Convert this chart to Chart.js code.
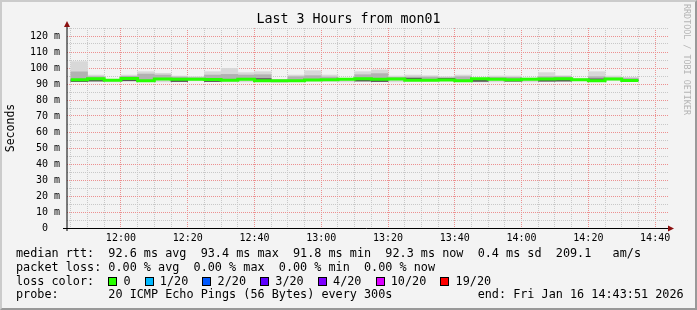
<!DOCTYPE html>
<html>
<head>
<meta charset="utf-8">
<script src="https://cdn.jsdelivr.net/npm/chart.js@4.4.1/dist/chart.umd.min.js"></script>
<style>
  html, body { margin: 0; padding: 0; }
  body {
    width: 697px; height: 310px; position: relative; overflow: hidden;
    background: #f3f3f3; color: #000;
    font-family: "DejaVu Sans Mono", monospace;
  }
  #chart { position: absolute; left: 0; top: 0; }
  .frame {
    position: absolute; left: 0; top: 0; width: 697px; height: 310px;
    box-sizing: border-box; border-style: solid; border-width: 2px;
    border-color: #cbcbcb #999 #999 #cbcbcb; pointer-events: none;
  }
  .title {
    position: absolute; left: 0; top: 11px; width: 697px;
    text-align: center; font-size: 13.3px; line-height: 16px;
  }
  .legend {
    position: absolute; left: 16px; top: 247px;
    font-size: 11.8px; line-height: 13.8px; white-space: pre;
  }
  .box {
    display: inline-block; width: 9px; height: 9px; box-sizing: border-box;
    border: 1px solid #000; vertical-align: -1px; margin-right: -1px;
  }
  .credit {
    position: absolute; left: 682px; top: 4px; line-height: 10px;
    font-size: 8.4px; color: #b4b4b4; writing-mode: vertical-rl; white-space: pre;
  }
</style>
</head>
<body>
<canvas id="chart" width="697" height="310"></canvas>
<div class="title">Last 3 Hours from mon01</div>
<div class="credit">RRDTOOL / TOBI OETIKER</div>
<div class="legend" id="legend"></div>
<div class="frame"></div>
<script>
// 5 minute steps (start of each step)
const stepTimes = [
  '11:45', '11:50', '11:55', '12:00', '12:05', '12:10', '12:15', '12:20', '12:25',
  '12:30', '12:35', '12:40', '12:45', '12:50', '12:55', '13:00', '13:05', '13:10',
  '13:15', '13:20', '13:25', '13:30', '13:35', '13:40', '13:45', '13:50', '13:55',
  '14:00', '14:05', '14:10', '14:15', '14:20', '14:25', '14:30'
];
const stepEnd = '14:35';
const graphEnd = '14:43:51';
const graphSpan = 180; // minutes
const stepLength = 5;

// ms
const rttMedian = [
  92.7, 93.3, 92.3, 93.5, 92.1, 93.2, 92.9, 92.9, 92.8,
  92.3, 92.9, 92.1, 92.0, 92.0, 92.5, 92.7, 92.9, 93.3,
  92.9, 93.1, 92.4, 92.4, 92.5, 92.1, 93.3, 92.9, 92.7,
  92.9, 93.1, 93.3, 92.7, 92.1, 93.1, 92.2
];
const rttMin = [
  91.8, 91.6, 91.3, 91.9, 91.6, 91.3, 91.4, 92.0, 91.7,
  91.3, 91.3, 91.5, 91.0, 91.6, 91.8, 91.6, 91.3, 91.8,
  91.4, 91.3, 91.8, 91.7, 91.9, 91.5, 91.2, 91.3, 91.6,
  91.3, 91.7, 91.5, 92.0, 91.7, 92.3, 91.7
];
const rttMax = [
  104.0, 95.6, 92.9, 95.6, 97.7, 96.7, 95.0, 94.6, 97.7,
  99.8, 97.1, 97.7, 92.9, 95.6, 98.3, 95.6, 93.5, 97.7,
  98.8, 95.0, 95.6, 95.2, 94.6, 95.6, 93.8, 95.0, 95.0,
  93.8, 97.1, 95.2, 93.3, 97.7, 95.0, 94.2
];
const rttHigh = [
  97.6, 94.6, 92.9, 94.8, 96.2, 95.6, 94.4, 94.0, 95.6,
  96.0, 95.6, 95.8, 92.6, 94.6, 95.2, 94.4, 93.3, 95.8,
  96.5, 94.2, 94.4, 94.4, 94.0, 94.6, 93.5, 94.2, 94.2,
  93.4, 94.6, 94.6, 93.1, 94.6, 93.8, 93.6
];
// pings closest to the median (dark smoke)
const rttNearLo = [
  91.5, 91.8, 92.3, 92.0, 92.1, 93.2, 91.5, 92.9, 91.5,
  92.3, 92.9, 92.1, 92.0, 92.0, 92.5, 92.7, 92.9, 91.8,
  91.5, 93.1, 92.4, 92.4, 92.5, 92.1, 91.6, 92.9, 91.7,
  92.9, 91.7, 91.8, 92.7, 92.1, 93.1, 92.2
];
const rttNearHi = [
  92.7, 93.3, 92.3, 93.5, 92.1, 93.2, 92.9, 92.9, 92.8,
  92.3, 92.9, 93.4, 92.0, 92.0, 92.5, 92.7, 92.9, 93.3,
  92.9, 93.1, 93.6, 92.4, 93.5, 92.1, 93.3, 92.9, 92.7,
  92.9, 93.1, 93.3, 92.7, 93.2, 93.1, 92.2
];

const yLabelValues = [0, 10, 20, 30, 40, 50, 60, 70, 80, 90, 100, 110, 120];
const yLabelText = ['0  ', '10 m', '20 m', '30 m', '40 m', '50 m', '60 m', '70 m',
  '80 m', '90 m', '100 m', '110 m', '120 m'];
const xLabels = ['12:00', '12:20', '12:40', '13:00', '13:20', '13:40', '14:00', '14:20', '14:40'];

const medianStats = ['92.6 ms avg', '93.4 ms max', '91.8 ms min', '92.3 ms now', '0.4 ms sd', '209.1   am/s'];
const lossStats = ['0.00 % avg', '0.00 % max', '0.00 % min', '0.00 % now'];
const lossLabels = ['0', '1/20', '2/20', '3/20', '4/20', '10/20', '19/20'];
const lossColors = ['#26ff00', '#00b8ff', '#0059ff', '#5e00ff', '#7e00ff', '#dd00ff', '#ff0000'];
const probeText = '20 ICMP Echo Pings (56 Bytes) every 300s';
const endText = 'end: Fri Jan 16 14:43:51 2026';

function toMin(t) {
  const p = t.split(':').map(Number);
  return p[0] * 60 + p[1] + (p[2] || 0) / 60;
}
function fmt(m) {
  const r = Math.round(m);
  return Math.floor(r / 60) + ':' + String(r % 60).padStart(2, '0');
}

const xMax = toMin(graphEnd);
const xMin = xMax - graphSpan;

function band(lo, hi) {
  return stepTimes.map((t, i) => ({x: toMin(t) + stepLength / 2, y: [lo[i], hi[i]]}));
}

const medianLine = stepTimes.map((t, i) => ({x: toMin(t), y: rttMedian[i]}));
medianLine.push({x: toMin(stepEnd), y: rttMedian[rttMedian.length - 1]});

const barOpts = {
  type: 'bar', grouped: false, barPercentage: 1, categoryPercentage: 1, borderWidth: 0
};

const axisArrows = {
  id: 'axisArrows',
  afterDatasetsDraw(chart) {
    const {ctx, chartArea: a} = chart;
    ctx.save();
    ctx.lineWidth = 1;
    ctx.strokeStyle = '#000';
    ctx.beginPath();
    ctx.moveTo(a.left - 4, a.bottom + 0.5);
    ctx.lineTo(a.right + 2, a.bottom + 0.5);
    ctx.stroke();
    ctx.beginPath();
    ctx.moveTo(a.left, a.bottom + 3);
    ctx.lineTo(a.left, a.top - 4);
    ctx.stroke();
    ctx.fillStyle = '#8b1010';
    ctx.beginPath();
    ctx.moveTo(a.left - 3, a.top - 1);
    ctx.lineTo(a.left + 3, a.top - 1);
    ctx.lineTo(a.left, a.top - 7);
    ctx.closePath();
    ctx.fill();
    ctx.beginPath();
    ctx.moveTo(a.right, a.bottom - 2.5);
    ctx.lineTo(a.right, a.bottom + 3.5);
    ctx.lineTo(a.right + 6, a.bottom + 0.5);
    ctx.closePath();
    ctx.fill();
    ctx.restore();
  }
};

const gridMinor = '#c8c8c8';
const gridMajor = '#ec9090';

new Chart(document.getElementById('chart'), {
  data: {
    datasets: [
      {...barOpts, data: band(rttMin, rttMax), backgroundColor: '#d8d8d8', order: 4},
      {...barOpts, data: band(rttMedian, rttHigh), backgroundColor: '#b2b2b2', order: 3},
      {...barOpts, data: band(rttNearLo, rttNearHi), backgroundColor: '#555555', order: 2},
      {
        type: 'line', data: medianLine, stepped: true, borderColor: '#26ff00',
        borderWidth: 3, pointRadius: 0, fill: false, order: 1
      }
    ]
  },
  options: {
    responsive: false,
    animation: false,
    devicePixelRatio: 1,
    layout: {padding: {top: 28, right: 29, bottom: 0, left: 0}},
    plugins: {legend: {display: false}, tooltip: {enabled: false}, title: {display: false}},
    scales: {
      x: {
        type: 'linear',
        min: xMin,
        max: xMax,
        offset: false,
        afterBuildTicks: (axis) => {
          const ticks = [];
          for (let v = Math.ceil(xMin / stepLength) * stepLength; v <= xMax; v += stepLength) {
            ticks.push({value: v});
          }
          axis.ticks = ticks;
        },
        afterFit: (axis) => { axis.height = 82; },
        grid: {
          offset: false,
          drawTicks: false,
          color: (c) => (c.tick && xLabels.includes(fmt(c.tick.value))) ? gridMajor : gridMinor
        },
        border: {display: false, dash: [1, 1]},
        ticks: {
          autoSkip: false, maxRotation: 0, padding: 4, color: '#000',
          font: {family: 'DejaVu Sans Mono', size: 10},
          callback: (v) => xLabels.includes(fmt(v)) ? fmt(v) : ''
        }
      },
      y: {
        min: 0,
        max: 125,
        afterFit: (axis) => { axis.width = 67; },
        title: {
          display: true, text: 'Seconds', color: '#000',
          font: {family: 'DejaVu Sans Mono', size: 11.5}, padding: {top: 4, bottom: 0}
        },
        grid: {
          drawTicks: false,
          color: (c) => (c.tick && yLabelValues.includes(c.tick.value)) ? gridMajor : gridMinor
        },
        border: {display: false, dash: [1, 1]},
        ticks: {
          stepSize: 5, autoSkip: false, padding: 7, color: '#000',
          font: {family: 'DejaVu Sans Mono', size: 10},
          callback: (v) => {
            const i = yLabelValues.indexOf(v);
            return i >= 0 ? yLabelText[i] : '';
          }
        }
      }
    }
  },
  plugins: [axisArrows]
});

// legend text below the graph
const lossItems = lossLabels.map((l, i) =>
  `<span class="box" style="background:${lossColors[i]}"></span> ${l}`).join('  ');
document.getElementById('legend').innerHTML = [
  'median rtt:  ' + medianStats.join('  '),
  'packet loss: ' + lossStats.join('  '),
  'loss color:  ' + lossItems,
  'probe:       ' + probeText + ' '.repeat(12) + endText
].join('\n');
</script>
</body>
</html>
